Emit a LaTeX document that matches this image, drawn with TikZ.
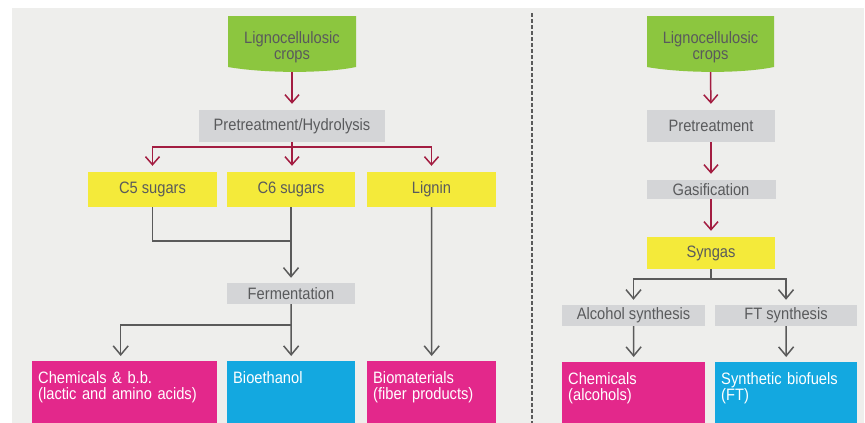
\documentclass[tikz,border=0pt]{standalone}
\usepackage{fontspec}
\setmainfont{Liberation Sans}[FakeStretch=0.89]
\usetikzlibrary{arrows.meta}
\definecolor{bg}{HTML}{EEEEEC}
\definecolor{grn}{HTML}{8CC63F}
\definecolor{yel}{HTML}{F4EA3A}
\definecolor{gry}{HTML}{D4D5D7}
\definecolor{mag}{HTML}{E3288B}
\definecolor{cyn}{HTML}{13A8E0}
\definecolor{arrred}{HTML}{A31D41}
\definecolor{lgr}{HTML}{5A5A5A}
\definecolor{txt}{HTML}{595A5C}
\tikzset{
  lbl/.style={inner sep=0pt, font=\fontsize{16.5}{16}\selectfont, text=txt, align=center},
  graybox/.style={lbl, fill=gry},
  yelbox/.style={lbl, fill=yel},
  outbox/.style={anchor=north west, inner xsep=6pt, inner ysep=0pt, text height=22pt, text depth=40pt,
    align=left, text=white, font=\fontsize{16.5}{16}\selectfont},
  rline/.style={draw=arrred, line width=1.5pt},
  rarrow/.style={rline, -{Straight Barb[length=8pt,width=14pt]}, shorten >=6pt},
  gline/.style={draw=lgr, line width=1.5pt},
  garrow/.style={gline, -{Straight Barb[length=9pt,width=15pt]}, shorten >=5pt},
}
\begin{document}
\begin{tikzpicture}[x=1pt,y=-1pt]
\useasboundingbox (0,0) rectangle (865,423);
\fill[bg] (12,8) rectangle (864,423);
% divider
\draw[lgr, line width=1.2pt, dash pattern=on 4pt off 2pt] (532,13) -- (532,423);

% ---------- left panel ----------
\fill[grn] (228,16) -- (356,16) -- (356,67) .. controls (322,74) and (262,73) .. (228,67) -- cycle;
\node[lbl, minimum width=128pt, minimum height=50pt] (g1) at (292,47) {Lignocellulosic\\crops};

\node[graybox, minimum width=186pt, minimum height=32pt] (pre) at (292,126) {Pretreatment/Hydrolysis};
\node[yelbox, minimum width=129pt, minimum height=35pt] (c5) at (152.5,189.5) {C5 sugars};
\node[yelbox, minimum width=128pt, minimum height=35pt] (c6) at (291,189.5) {C6 sugars};
\node[yelbox, minimum width=129pt, minimum height=35pt] (lig) at (431.5,189.5) {Lignin};
\node[graybox, minimum width=128pt, minimum height=21pt] (ferm) at (291,293.5) {Fermentation};

\node[outbox, fill=mag, text width=173pt] (chem) at (32,361) {Chemicals \& b.b.\\(lactic and amino acids)};
\node[outbox, fill=cyn, text width=116pt] (bio) at (227,361) {Bioethanol};
\node[outbox, fill=mag, text width=117pt] (biom) at (367,361) {Biomaterials\\(fiber products)};

\draw[rarrow] (g1.south) -- (pre.north);
\coordinate (j1) at (292,147);
\draw[rline] (pre.south) -- (j1);
\draw[rarrow] (j1) -| (c5.north);
\draw[rarrow] (j1) -- (j1 |- c6.north);
\draw[rarrow] (j1) -| (lig.north);

\coordinate (j2) at (291,241);
\draw[gline] (c5.south) |- (j2);
\draw[garrow] (c6.south) -- (ferm.north);
\coordinate (j3) at (291,325);
\draw[garrow] (ferm.south) -- (bio.north);
\draw[garrow] (j3) -| ([xshift=-4pt]chem.north);
\draw[garrow] (lig.south) -- (biom.north);

% ---------- right panel ----------
\fill[grn] (647,16) -- (774,16) -- (774,67) .. controls (740,74) and (680,73) .. (647,67) -- cycle;
\node[lbl, minimum width=127pt, minimum height=50pt] (g2) at (710.5,47) {Lignocellulosic\\crops};

\node[graybox, minimum width=128pt, minimum height=32pt] (pre2) at (711,126) {Pretreatment};
\node[graybox, minimum width=129pt, minimum height=19pt] (gas) at (711,189.5) {Gasification};
\node[yelbox, minimum width=128pt, minimum height=32pt] (syn) at (711,253) {Syngas};
\node[graybox, minimum width=143pt, minimum height=21pt] (alc) at (633.5,315.5) {Alcohol synthesis};
\node[graybox, minimum width=142pt, minimum height=21pt] (ft) at (786,315.5) {FT synthesis};

\node[outbox, fill=mag, text width=131pt] (chem2) at (562,362) {Chemicals\\(alcohols)};
\node[outbox, fill=cyn, text width=130pt] (synf) at (715,362) {Synthetic biofuels\\(FT)};

\draw[rarrow] (g2.south) -- (pre2.north);
\draw[rarrow] (pre2.south) -- (gas.north);
\draw[rarrow] (gas.south) -- (syn.north);
\coordinate (j4) at (711,279);
\draw[gline] (syn.south) -- (j4);
\draw[garrow] (j4) -| (alc.north);
\draw[garrow] (j4) -| (ft.north);
\draw[garrow] (alc.south) -- (chem2.north);
\draw[garrow] (ft.south) -- (synf.north);
\end{tikzpicture}
\end{document}
